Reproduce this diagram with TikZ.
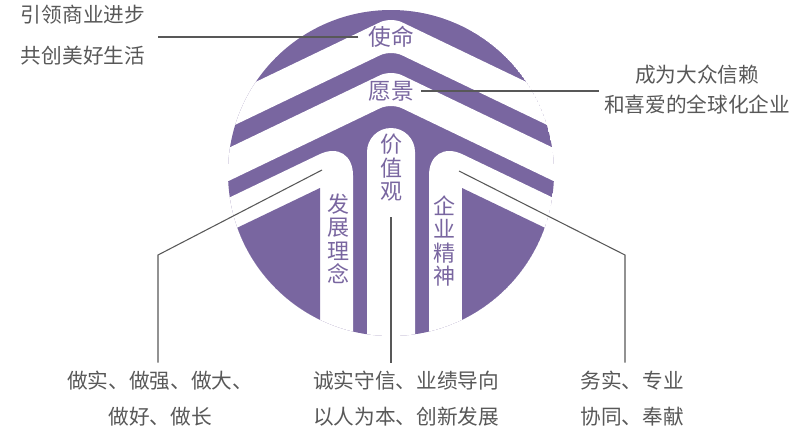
\documentclass[tikz,border=0pt]{standalone}
\usepackage{fontspec}
\setmainfont{Noto Sans CJK SC}
\definecolor{corepurple}{RGB}{121,102,160}
\definecolor{notegray}{RGB}{88,88,88}
\begin{document}
\begin{tikzpicture}[x=.75pt, y=-.75pt,
    note/.style={text=notegray, align=center, font=\fontsize{15.5}{27}\selectfont},
    title/.style={text=corepurple, font=\fontsize{17}{17}\selectfont},
    column/.style={text=corepurple, align=center, inner sep=0pt, font=\fontsize{16.5}{17.6}\selectfont},
    leader/.style={draw=notegray, line width=.8pt}]
    \useasboundingbox (0,0) rectangle (795,432);
    \begin{scope}
        \clip (391,173) circle (163);
        \fill[corepurple] (391,173) circle (163);
        \fill[white, rounded corners=9pt] (91,161) -- (391,17) -- (691,161) -- (691,194) -- (391,50) -- (91,194) -- cycle;
        \fill[white, rounded corners=9pt] (91,214) -- (391,70) -- (691,214) -- (691,247) -- (391,103) -- (91,247) -- cycle;
        \fill[white, rounded corners=28pt] (353,138.2) -- (353,400) -- (0,400) -- (0,307.7) -- cycle;
        \fill[white, rounded corners=28pt] (429,138.2) -- (429,400) -- (795,400) -- (795,313.9) -- cycle;
        \fill[white] (367,400) -- (367,152) arc (180:360:24) -- (415,400) -- cycle;
        \fill[corepurple] (320,188) -- (320,400) -- (0,400) -- (0,341.7) -- cycle;
        \fill[corepurple] (462,188) -- (462,400) -- (795,400) -- (795,347.9) -- cycle;
    \end{scope}
    \node[title] (mission) at (391,37) {使命};
    \node[title] (vision) at (391,91) {愿景};
    \node[column] (values) at (391,168) {价\\值\\观};
    \node[column] (idea) at (338,239) {发\\展\\理\\念};
    \node[column] (spirit) at (444,241) {企\\业\\精\\神};
    \node[note, font=\fontsize{15.5}{30.75}\selectfont] (missionnote) at (83,35.5) {引领商业进步\\共创美好生活};
    \node[note, font=\fontsize{15.5}{22.5}\selectfont] (visionnote) at (697,90) {成为大众信赖\\和喜爱的全球化企业};
    \node[note] (ideanote) at (160,399) {做实、做强、做大、\\做好、做长};
    \node[note] (valuenote) at (406,399) {诚实守信、业绩导向\\以人为本、创新发展};
    \node[note] (spiritnote) at (632,399) {务实、专业\\协同、奉献};
    \coordinate (ideabend) at (158,255);
    \coordinate (ideatip) at (322,170);
    \coordinate (valuetip) at (391,217);
    \coordinate (spiritbend) at (625,255);
    \coordinate (spirittip) at (459,171);
    \draw[leader] ([xshift=-4pt]mission.west) -- ([xshift=6pt]mission.west -| missionnote.east);
    \draw[leader] ([xshift=2pt]vision.east) -- (vision.east -| visionnote.west);
    \draw[leader] ([yshift=3pt]ideanote.north -| ideabend) -- (ideabend) -- (ideatip);
    \draw[leader] ([yshift=3pt]valuenote.north -| valuetip) -- (valuetip);
    \draw[leader] ([yshift=3pt]spiritnote.north -| spiritbend) -- (spiritbend) -- (spirittip);
\end{tikzpicture}
\end{document}
